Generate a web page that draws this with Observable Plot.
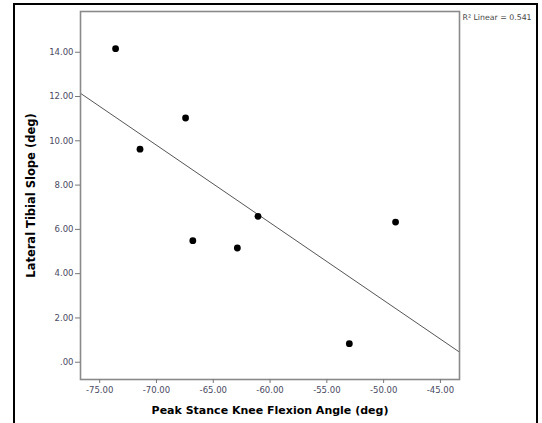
<!DOCTYPE html>
<html>
<head>
<meta charset="utf-8">
<script src="https://cdn.jsdelivr.net/npm/d3@7"></script>
<script src="https://cdn.jsdelivr.net/npm/@observablehq/plot@0.6"></script>
<style>
  html, body { margin: 0; padding: 0; background: #fff; overflow: hidden; }
  #wrap { position: relative; width: 542px; height: 423px; }
  #border { position: absolute; left: 13px; top: 3px; width: 525px; height: 440px;
            border: 2px solid #000; box-sizing: border-box; pointer-events: none; }
  #chart { position: absolute; left: 0; top: 0; }
</style>
</head>
<body>
<div id="wrap"><div id="chart"></div><div id="border"></div></div>
<script>
const kneeFlexion = [-73.60, -67.44, -71.45, -61.06, -66.80, -62.88, -48.95, -53.02];
const tibialSlope = [14.16, 11.03, 9.62, 6.59, 5.49, 5.16, 6.33, 0.84];
const xTicks = [-75, -70, -65, -60, -55, -50, -45];
const yTicks = [0, 2, 4, 6, 8, 10, 12, 14];
const xDomain = [-76.69, -43.32];
const yDomain = [-0.78, 15.84];
const xTitle = "Peak Stance Knee Flexion Angle (deg)";
const yTitle = "Lateral Tibial Slope (deg)";
const fitLabel = "R\u00B2 Linear = 0.541";

const points = kneeFlexion.map((x, i) => ({x, y: tibialSlope[i]}));

// least-squares fit computed from the points, drawn across the full x domain
const mx = d3.mean(kneeFlexion), my = d3.mean(tibialSlope);
const sxy = d3.sum(points, p => (p.x - mx) * (p.y - my));
const sxx = d3.sum(points, p => (p.x - mx) ** 2);
const slope = sxy / sxx, intercept = my - slope * mx;
const fitLine = xDomain.map(x => ({x, y: intercept + slope * x}));

const fmt = d => d === 0 ? ".00" : d.toFixed(2);
const font = "DejaVu Sans, sans-serif";

const chart = Plot.plot({
  width: 542,
  height: 423,
  marginLeft: 80,
  marginRight: 83,
  marginTop: 11,
  marginBottom: 44,
  style: {fontFamily: font, background: "transparent"},
  x: {domain: xDomain, ticks: xTicks},
  y: {domain: yDomain, ticks: yTicks},
  marks: [
    Plot.line(fitLine, {x: "x", y: "y", stroke: "#555", strokeWidth: 1, clip: true}),
    Plot.dot(points, {x: "x", y: "y", r: 3.4, fill: "#000", stroke: "none"}),
    Plot.frame({stroke: "#8a8a8a", strokeWidth: 1.6}),
    Plot.axisX({ticks: xTicks, tickFormat: fmt, tickSize: 4, tickPadding: 3, label: null,
      stroke: "#777", fill: "#4a4a62", fontSize: 8.5, fontFamily: font}),
    Plot.axisY({ticks: yTicks, tickFormat: fmt, tickSize: 5, tickPadding: 2, label: null,
      stroke: "#777", fill: "#4a4a62", fontSize: 8.5, fontFamily: font}),
    Plot.text([xTitle], {frameAnchor: "bottom", dy: 31, text: d => d, fontSize: 11,
      fontWeight: "bold", fill: "#000", textAnchor: "middle", lineAnchor: "middle", fontFamily: font}),
    Plot.text([yTitle], {frameAnchor: "left", dx: -49, rotate: -90, text: d => d, fontSize: 11.5,
      fontWeight: "bold", fill: "#000", textAnchor: "middle", lineAnchor: "middle", fontFamily: font}),
    Plot.text([fitLabel], {frameAnchor: "top-right", dx: 3, dy: 6, text: d => d, textAnchor: "start",
      fontSize: 7.8, fill: "#444", lineAnchor: "middle", fontFamily: font})
  ]
});
document.getElementById("chart").appendChild(chart);
</script>
</body>
</html>
